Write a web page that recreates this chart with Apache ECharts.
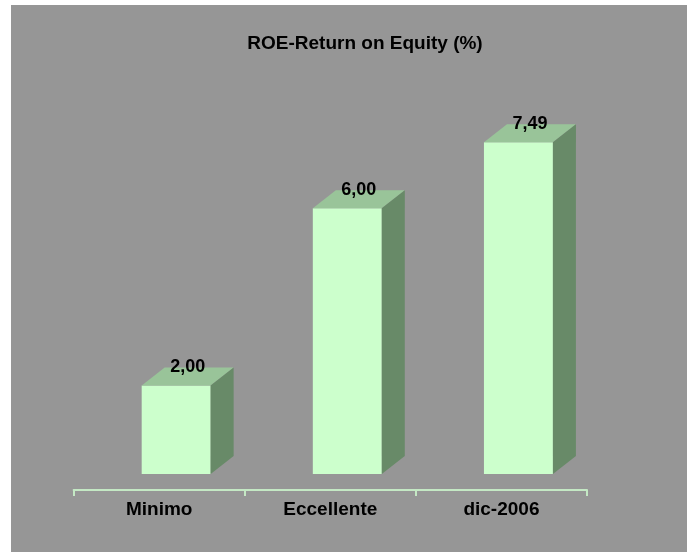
<!DOCTYPE html>
<html>
<head>
<meta charset="utf-8">
<script src="https://cdn.jsdelivr.net/npm/echarts@6/dist/echarts.min.js"></script>
<style>
    html, body { margin: 0; padding: 0; background: #ffffff; }
    #chart { position: absolute; left: 11px; top: 5px; width: 676px; height: 547px; }
</style>
</head>
<body>
<div id="chart"></div>
<script>
// Chart data
const categories = ['Minimo', 'Eccellente', 'dic-2006'];
const roeValues = [2.00, 6.00, 7.49];
const chartTitle = 'ROE-Return on Equity (%)';

// Bar colours (front / top / side faces)
const frontColor = '#ccffcc';
const topColor = '#99c499';
const sideColor = '#688a68';
const axisColor = '#c4e8c4';
const fontFamily = '"Liberation Sans", Arial, sans-serif';

const chart = echarts.init(document.getElementById('chart'));

// Draws one pseudo-3D bar with its value label on top
const renderBar3d = (params, api) => {
    const idx = api.value(0);
    const val = api.value(1);
    const topPt = api.coord([idx, val]);
    const basePt = api.coord([idx, 0]);
    const band = api.size([1, 0])[0];
    const w = band * 0.403;
    const dx = 23, dy = 18;     // depth of the box
    const shiftX = 17, lift = 16; // bars sit back from the axis line
    const cx = topPt[0] + shiftX;
    const x0 = cx - w / 2, x1 = cx + w / 2;
    const yT = topPt[1] - lift, yB = basePt[1] - lift;
    return {
        type: 'group',
        children: [
            { type: 'rect', shape: { x: x0, y: yT, width: w, height: yB - yT }, style: { fill: frontColor } },
            { type: 'polygon', shape: { points: [[x0, yT], [x0 + dx, yT - dy], [x1 + dx, yT - dy], [x1, yT]] }, style: { fill: topColor } },
            { type: 'polygon', shape: { points: [[x1, yT], [x1 + dx, yT - dy], [x1 + dx, yB - dy], [x1, yB]] }, style: { fill: sideColor } },
            {
                type: 'text',
                x: cx + dx / 2,
                y: yT - 18,
                style: {
                    text: val.toFixed(2).replace('.', ','),
                    textAlign: 'center',
                    textVerticalAlign: 'middle',
                    fill: '#000000',
                    font: 'bold 18px ' + fontFamily
                }
            }
        ]
    };
};

chart.setOption({
    backgroundColor: '#969696',
    animation: false,
    title: {
        text: chartTitle,
        left: 349,
        top: 24,
        textAlign: 'center',
        textStyle: {
            fontFamily: fontFamily,
            fontWeight: 'bold',
            fontSize: 19,
            color: '#000000'
        }
    },
    grid: {
        left: 62.6,
        right: 100,
        top: 42,
        bottom: 62
    },
    xAxis: {
        type: 'category',
        data: categories,
        boundaryGap: true,
        axisLine: { show: true, lineStyle: { color: axisColor, width: 2 } },
        axisTick: { show: true, length: 6, inside: false, lineStyle: { color: axisColor, width: 2 } },
        axisLabel: {
            margin: 10,
            color: '#000000',
            fontFamily: fontFamily,
            fontWeight: 'bold',
            fontSize: 19
        }
    },
    yAxis: {
        type: 'value',
        min: 0,
        max: 10,
        show: false
    },
    series: [{
        type: 'custom',
        renderItem: renderBar3d,
        data: roeValues.map((v, i) => [i, v])
    }]
});
</script>
</body>
</html>
